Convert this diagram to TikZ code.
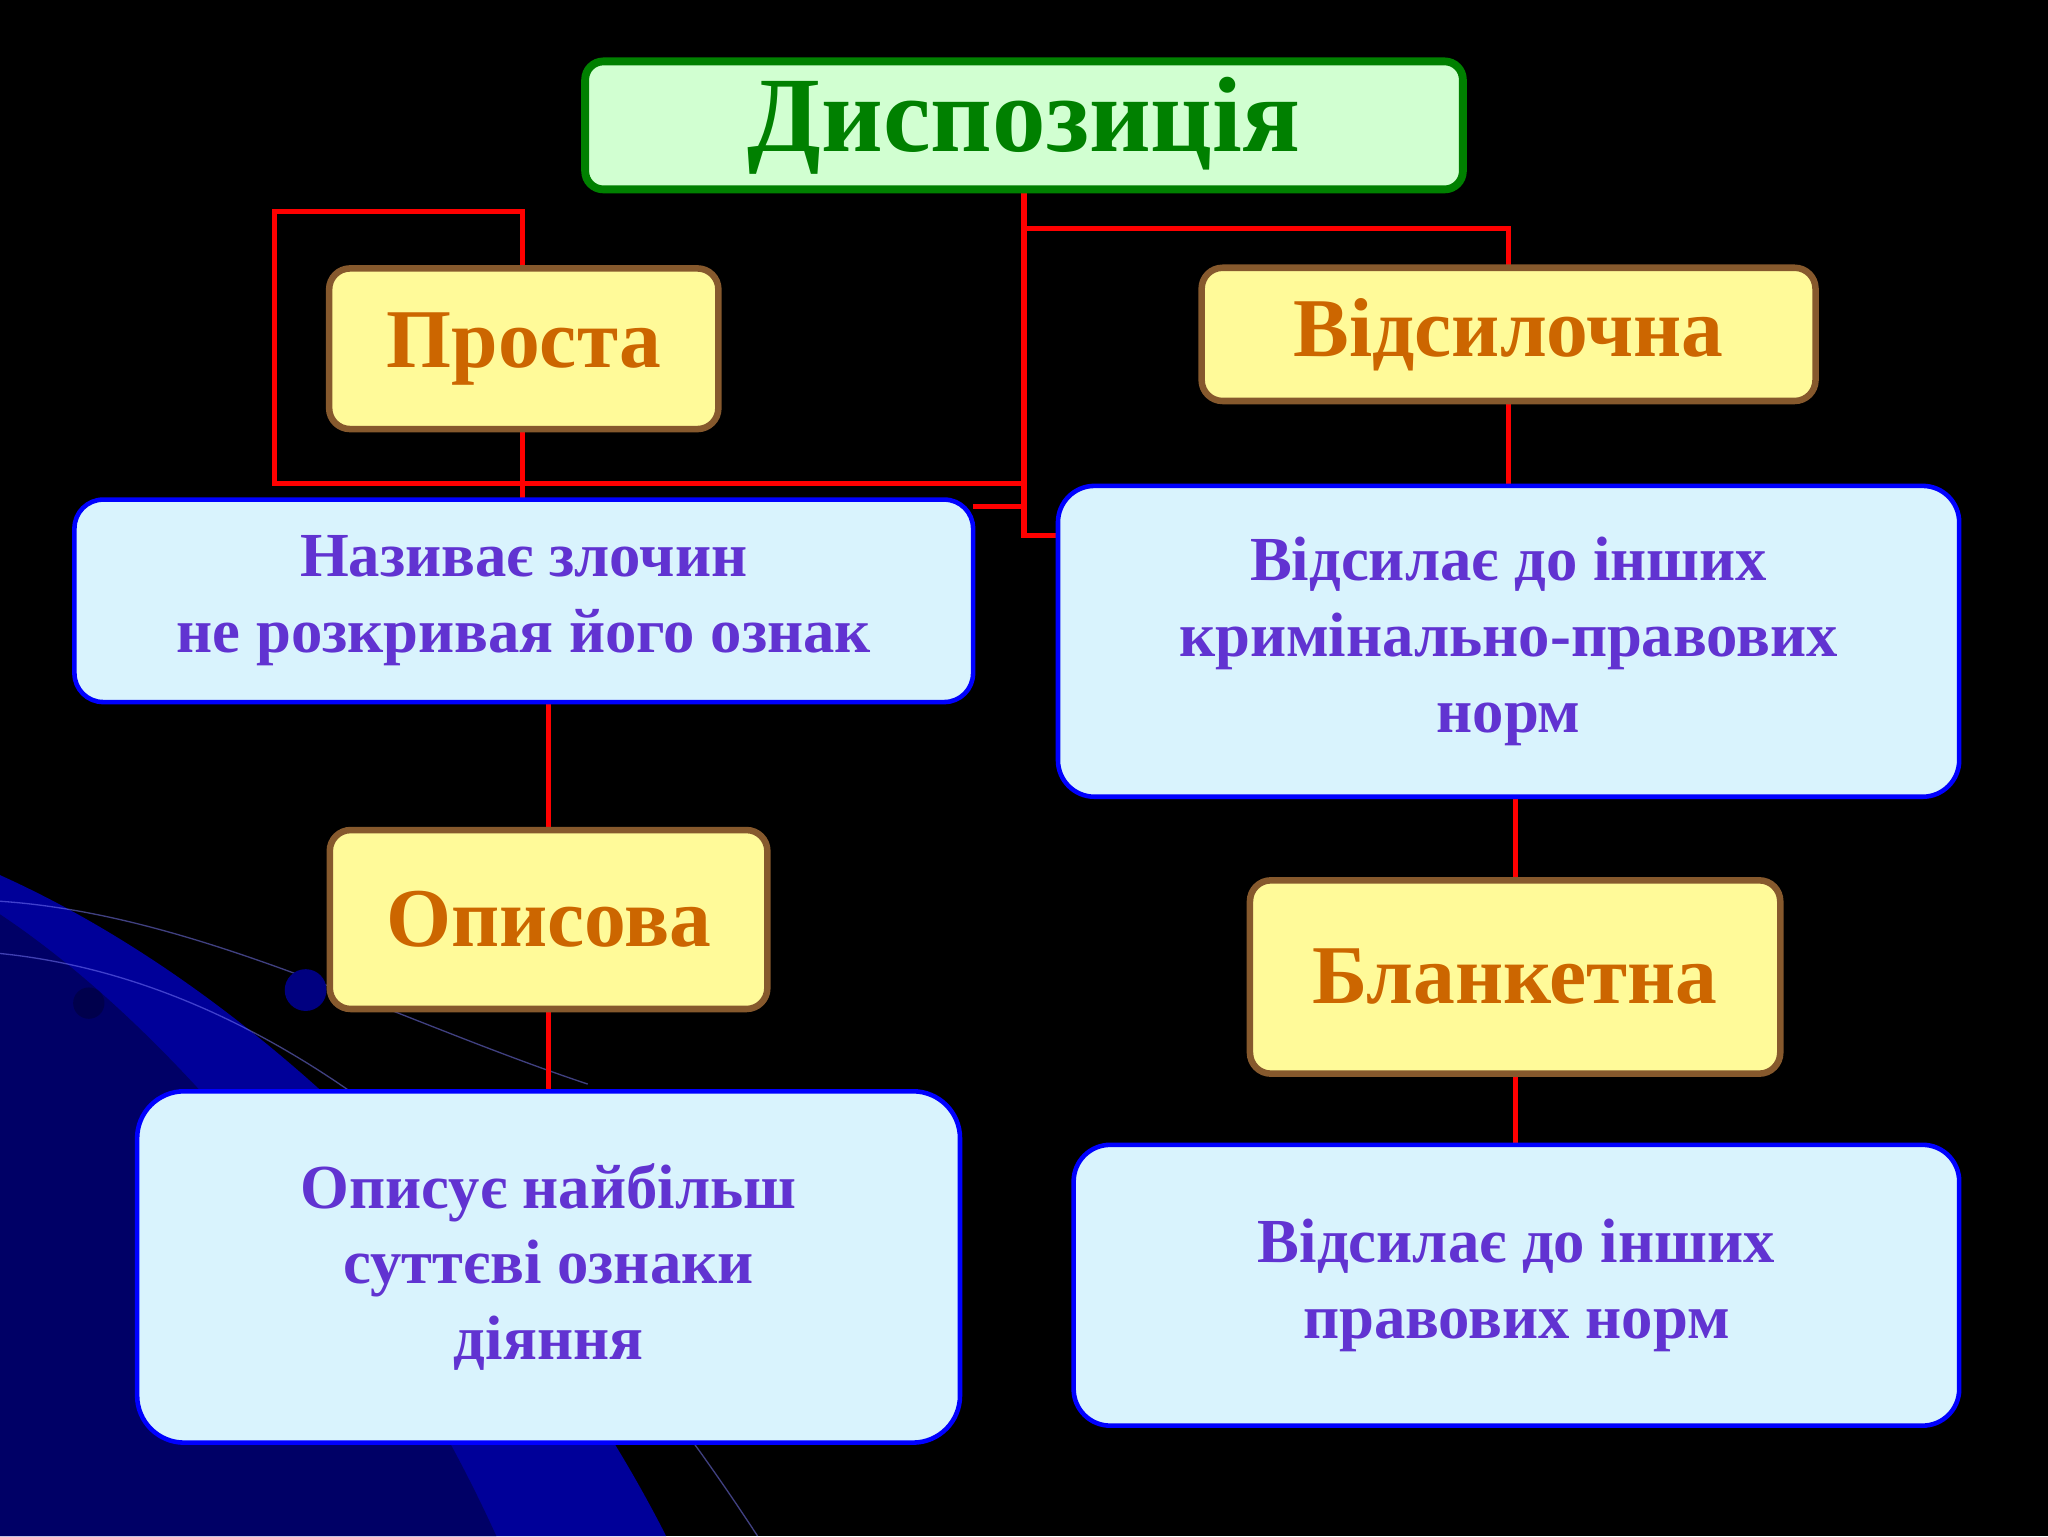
\documentclass[tikz,border=0pt]{standalone}
\usepackage{fontspec}
\setmainfont{Liberation Serif}
\begin{document}
\begin{tikzpicture}[x=1pt,y=-1pt,
 ybox/.style={draw=brown!70!black,line width=5pt,fill=yellow!40,rounded corners=16pt,text=orange!80!black,font=\fontsize{64}{70}\selectfont\bfseries},
 cbox/.style={draw=blue,line width=3.5pt,fill=cyan!15,rounded corners=28pt,text=blue!70!purple!80!white,font=\fontsize{48}{72}\selectfont\bfseries,align=center},
 link/.style={draw=red,line width=4pt}]
\fill[black] (0,0) rectangle (1568,1176);
\useasboundingbox (0,0) rectangle (1568,1176);
\fill[blue!60!black] (0,670) .. controls (200,760) and (400,960) .. (510,1176) -- (0,1176) -- cycle;
\fill[blue!40!black] (0,700) .. controls (150,800) and (300,1000) .. (380,1176) -- (0,1176) -- cycle;
\draw[blue!50!white,line width=1pt,opacity=.5] (0,690) .. controls (150,700) and (300,780) .. (450,830);
\draw[blue!50!white,line width=1pt,opacity=.5] (0,730) .. controls (200,750) and (400,900) .. (580,1176);
\fill[blue!50!black] (234,758) circle (16);
\fill[blue!30!black] (68,768) circle (12);
% connectors
\draw[link] (784,145) -- (784,410) -- (810,410);
\draw[link] (784,175) -- (1155,175) -- (1155,205);
\draw[link] (784,370) -- (210,370) -- (210,162) -- (400,162) -- (400,205);
\draw[link] (745,388) -- (784,388);
\draw[link] (400,328) -- (400,383);
\draw[link] (1155,307) -- (1155,372);
\draw[link] (420,538) -- (420,636);
\draw[link] (420,773) -- (420,836);
\draw[link] (1160,610) -- (1160,674);
\draw[link] (1160,822) -- (1160,877);
% nodes
\node[draw=green!50!black,line width=6pt,fill=green!18,rounded corners=14pt,minimum width=672pt,minimum height=98pt,text=green!50!black,font=\fontsize{82}{90}\selectfont\bfseries] (t) at (784,96) {Диспозиція};
\node[ybox,minimum width=298pt,minimum height=123pt] (p) at (401,267) {Проста};
\node[ybox,minimum width=470pt,minimum height=102pt] (v) at (1155,256) {Відсилочна};
\node[cbox,minimum width=688pt,minimum height=155pt,rounded corners=22pt] (n) at (401,460) {Називає злочин\\[-14pt]не розкривая його ознак};
\node[cbox,minimum width=690pt,minimum height=238pt] (vn) at (1155,491) {Відсилає до інших\\[-14pt]кримінально-правових\\[-14pt]норм};
\node[ybox,minimum width=335pt,minimum height=137pt] (o) at (420,704) {Описова};
\node[ybox,minimum width=406pt,minimum height=148pt] (b) at (1160,748) {Бланкетна};
\node[cbox,minimum width=630pt,minimum height=269pt,rounded corners=36pt] (on) at (420,970) {Описує найбільш\\[-14pt]суттєві ознаки\\[-14pt]діяння};
\node[cbox,minimum width=678pt,minimum height=215pt] (vp) at (1161,984) {Відсилає до інших\\[-14pt]правових норм};
\end{tikzpicture}
\end{document}
